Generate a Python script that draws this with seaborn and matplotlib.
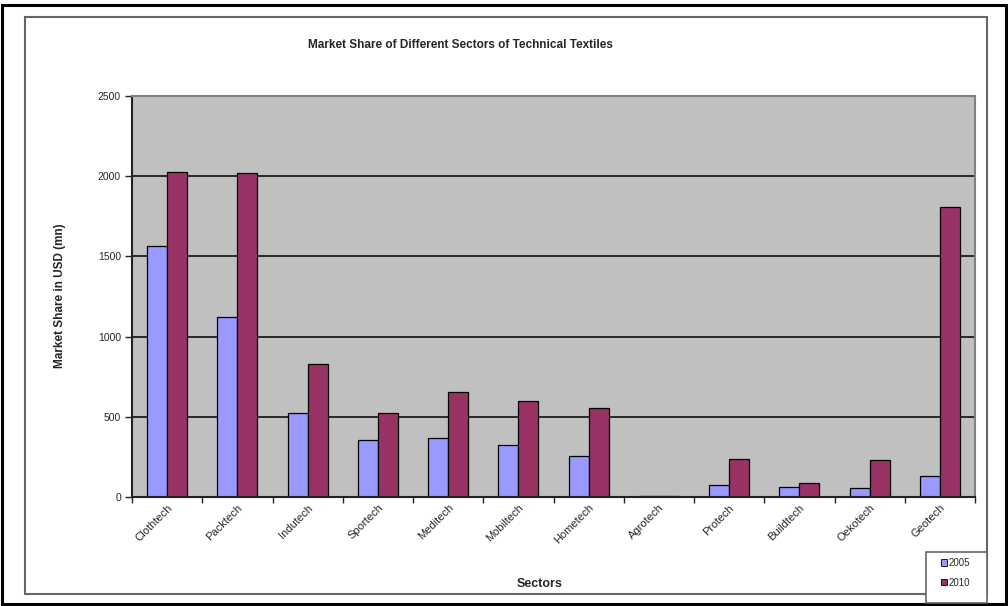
import matplotlib
matplotlib.use("Agg")
import matplotlib.pyplot as plt
from matplotlib.patches import Rectangle, Patch
from matplotlib.ticker import FixedLocator
import seaborn as sns
import pandas as pd

# Market share (USD mn) per technical-textile sector
sectors = ["Clothtech", "Packtech", "Indutech", "Sportech", "Meditech", "Mobiltech",
           "Hometech", "Agrotech", "Protech", "Buildtech", "Oekotech", "Geotech"]
share_2005 = [1562, 1123, 522, 356, 370, 326, 258, 5, 76, 62, 56, 131]
share_2010 = [2028, 2022, 827, 523, 657, 600, 557, 8, 238, 88, 228, 1806]
years = ["2005", "2010"]
year_colors = {"2005": "#9999FF", "2010": "#993366"}

df = pd.DataFrame({
    "Sector": sectors * 2,
    "Year": [years[0]] * len(sectors) + [years[1]] * len(sectors),
    "Share": share_2005 + share_2010,
})

sns.set_theme(style="white")
plt.rcParams["font.family"] = ["Liberation Sans", "DejaVu Sans"]

W, H = 1008, 606
fig = plt.figure(figsize=(W / 100, H / 100), dpi=100)

# outer black frame and inner grey chart frame (pixel coordinates -> figure fraction)
def px_rect(x0, y0, x1, y1, **kw):
    return Rectangle((x0 / W, 1 - y1 / H), (x1 - x0) / W, (y1 - y0) / H,
                     transform=fig.transFigure, **kw)

fig.patches.append(px_rect(2, 5, 1006, 604, fill=False, edgecolor="black", linewidth=2.2))
fig.patches.append(px_rect(25, 17, 987, 594, fill=False, edgecolor="#666666", linewidth=1.5))

left, right, top, bottom = 132, 975, 96, 497
ax = fig.add_axes([left / W, 1 - bottom / H, (right - left) / W, (bottom - top) / H])
ax.set_facecolor("#C0C0C0")

sns.barplot(data=df, x="Sector", y="Share", hue="Year", palette=year_colors,
            order=sectors, hue_order=years, width=0.57, gap=0,
            edgecolor="black", linewidth=0.9, saturation=1, ax=ax, legend=False)

ax.set_ylim(0, 2500)
ax.set_xlim(-0.5, len(sectors) - 0.5)
ax.set_yticks([0, 500, 1000, 1500, 2000, 2500])
ax.yaxis.grid(True, color="black", linewidth=1.1)
ax.set_axisbelow(True)

for s in ["top", "right"]:
    ax.spines[s].set_color("#808080")
    ax.spines[s].set_linewidth(1.5)
for s in ["left", "bottom"]:
    ax.spines[s].set_color("#222222")
    ax.spines[s].set_linewidth(1.5)

ax.tick_params(axis="y", which="major", direction="out", length=5, width=1,
               color="#222222", labelsize=7.5, pad=3, left=True)
ax.set_xticks(range(len(sectors)))
ax.set_xticklabels(sectors, rotation=45, ha="right", rotation_mode="anchor", fontsize=8)
ax.tick_params(axis="x", which="major", length=0, pad=4)
ax.xaxis.set_minor_locator(FixedLocator([i + 0.5 for i in range(-1, len(sectors))]))
ax.tick_params(axis="x", which="minor", direction="out", length=4, width=1,
               color="#222222", bottom=True)

ax.set_xlabel("")
ax.set_ylabel("")
fig.text(460 / W, 1 - 45 / H, "Market Share of Different Sectors of Technical Textiles",
         ha="center", va="center", fontsize=8.5, fontweight="bold")
fig.text(60 / W, 1 - 296 / H, "Market Share in USD (mn)", rotation=90,
         ha="center", va="center", fontsize=8.5, fontweight="bold")
fig.text(540 / W, 1 - 584 / H, "Sectors", ha="center", va="center",
         fontsize=9, fontweight="bold")

# legend box in the lower-right corner
fig.patches.append(px_rect(926, 552, 987, 603, facecolor="white",
                           edgecolor="#666666", linewidth=1.2, zorder=3))
handles = [Patch(facecolor=year_colors[y], edgecolor="black", linewidth=0.6, label=y)
           for y in years]
leg = fig.legend(handles=handles, loc="upper left",
                 bbox_to_anchor=(938 / W, 1 - 555 / H), fontsize=7,
                 frameon=False, handlelength=0.6, handleheight=0.6,
                 handletextpad=0.2, borderpad=0.3, labelspacing=1.0,
                 borderaxespad=0)
leg.set_zorder(4)

fig.savefig("out.png", dpi=100)
